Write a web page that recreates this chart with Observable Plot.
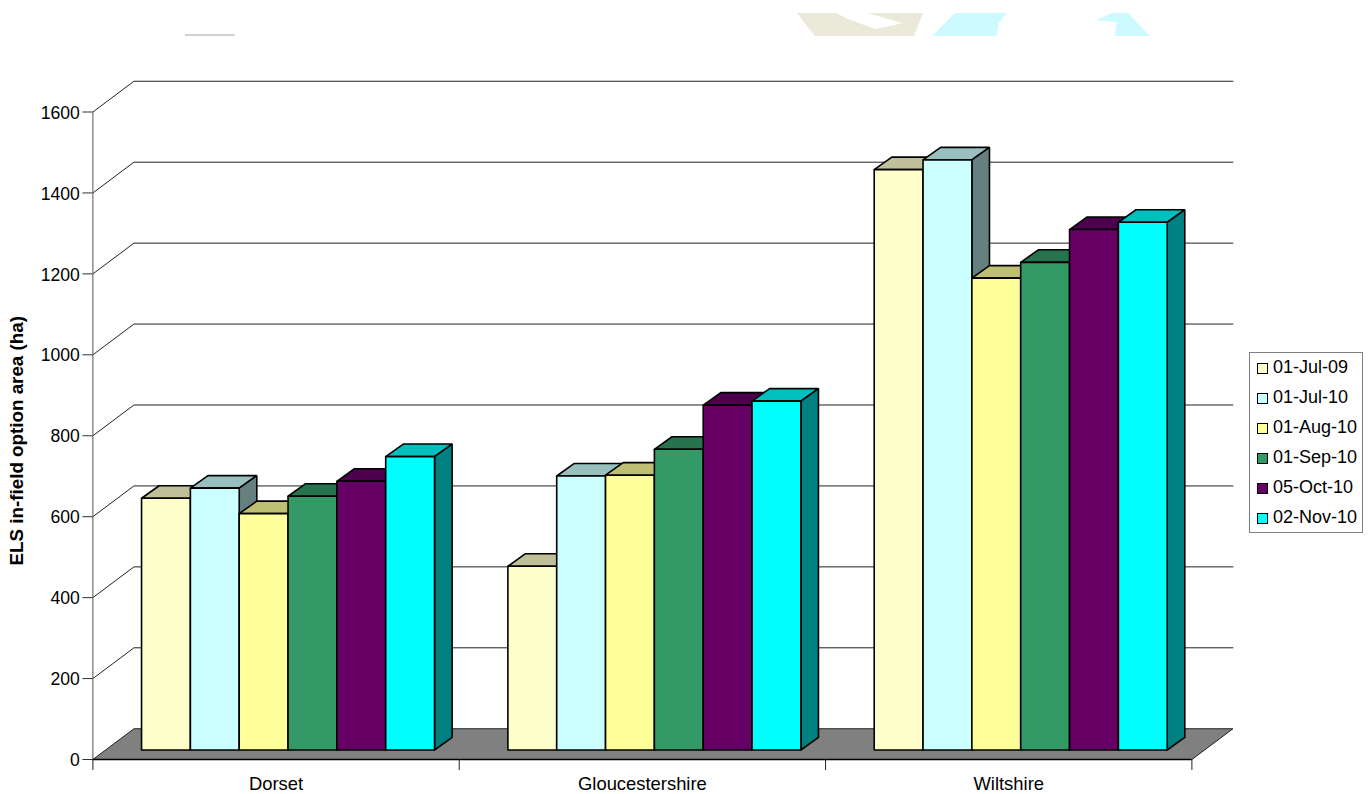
<!DOCTYPE html>
<html>
<head>
<meta charset="utf-8">
<script src="https://cdn.jsdelivr.net/npm/d3@7"></script>
<script src="https://cdn.jsdelivr.net/npm/@observablehq/plot@0.6"></script>
<style>
  html, body { margin: 0; padding: 0; background: #fff; }
  #page { position: relative; width: 1370px; height: 794px; overflow: hidden; font-family: "Liberation Sans", Arial, sans-serif; }
  #chart svg { display: block; }
  .legend { position: absolute; left: 1249px; top: 352px; width: 112px; height: 179px; border: 1px solid #808080; background: #fff; box-sizing: content-box; }
  .legend div { position: absolute; left: 7px; height: 30px; line-height: 30px; font-size: 18px; white-space: nowrap; color: #000; }
  .legend i { position: absolute; left: 0; top: 10px; width: 9px; height: 9px; border: 1px solid #000; }
  .legend span { position: absolute; left: 16px; top: -1px; }
  .remnant { position: absolute; top: 13px; height: 23px; }
</style>
</head>
<body>
<div id="page">
  <!-- pale fragments along the top edge of the sheet -->
  <div class="remnant" style="left:797px;width:126px;background:#ebe9d9;clip-path:polygon(0 0,31% 0,40% 25%,62% 70%,84% 45%,56% 0,100% 0,93% 100%,14% 100%)"></div>
  <div class="remnant" style="left:932px;width:76px;background:#ccfaff;clip-path:polygon(30% 0,98% 0,88% 45%,85% 100%,0 100%)"></div>
  <div class="remnant" style="left:1096px;width:54px;background:#ccfaff;clip-path:polygon(30% 0,60% 0,100% 100%,35% 100%,38% 40%,0 30%)"></div>
  <div class="remnant" style="left:185px;top:34px;width:50px;height:2px;background:#d2d2d2"></div>
  <div id="chart"></div>
</div>
<script>
// ELS in-field option area by county, at six survey dates
const categories = ["Dorset", "Gloucestershire", "Wiltshire"];
const dates = ["01-Jul-09", "01-Jul-10", "01-Aug-10", "01-Sep-10", "05-Oct-10", "02-Nov-10"];
const dorset = [622, 647, 584, 627, 664, 725];
const gloucestershire = [454, 677, 679, 743, 852, 862];
const wiltshire = [1434, 1458, 1166, 1205, 1286, 1304];
const frontColors = ["#FFFFCC", "#CCFFFF", "#FFFF99", "#339966", "#660066", "#00FFFF"];
const topColors = ["#BFBF99", "#99BFBF", "#BFBF73", "#26734D", "#4D004D", "#00BFBF"];
const sideColors = ["#808066", "#668080", "#80804D", "#1A4D33", "#330033", "#008080"];
const yTicks = [0, 200, 400, 600, 800, 1000, 1200, 1400, 1600];
const seriesByCategory = [dorset, gloucestershire, wiltshire];

// Oblique projection, in scale units: x in categories, y in hectares
const wallX = 0.112, wallY = 76;      // back wall offset from the front plane
const barInsetX = 0.1328, barRiseY = 23.5; // front of the bars within the floor
const barWidth = 0.1333;
const barDepthX = 0.048, barDepthY = 31;

// Closed outline helper: every face is one polygon drawn by Plot.line
const faces = [];
function addFace(points, fill) {
  const id = faces.length ? faces[faces.length - 1].id + 1 : 0;
  for (const [x, y] of [...points, points[0]]) faces.push({id, x, y, fill});
}

categories.forEach((_, c) => {
  seriesByCategory[c].forEach((value, s) => {
    const x0 = c + barInsetX + s * barWidth, x1 = x0 + barWidth;
    const y0 = barRiseY, y1 = barRiseY + value;
    addFace([[x0, y1], [x1, y1], [x1 + barDepthX, y1 + barDepthY], [x0 + barDepthX, y1 + barDepthY]], topColors[s]);
    addFace([[x1, y0], [x1 + barDepthX, y0 + barDepthY], [x1 + barDepthX, y1 + barDepthY], [x1, y1]], sideColors[s]);
    addFace([[x0, y0], [x1, y0], [x1, y1], [x0, y1]], frontColors[s]);
  });
});

const wallLines = yTicks.slice(1).flatMap(v => [
  {v, x: 0, y: v},
  {v, x: wallX, y: v + wallY},
  {v, x: 3 + wallX, y: v + wallY}
]);
const floor = [[0, 0], [wallX, wallY], [3 + wallX, wallY], [3, 0], [0, 0]].map(([x, y]) => ({x, y}));

const plot = Plot.plot({
  width: 1370,
  height: 794,
  marginLeft: 92.4,
  marginRight: 178.6,
  marginTop: 111.5,
  marginBottom: 35,
  x: {domain: [0, 3]},
  y: {domain: [0, 1600]},
  style: {fontFamily: "'Liberation Sans', Arial, sans-serif", color: "#000", background: "transparent"},
  marks: [
    Plot.line(wallLines, {x: "x", y: "y", z: "v", stroke: "#222", strokeWidth: 1}),
    Plot.line(floor, {x: "x", y: "y", fill: "#808080", stroke: "#222", strokeWidth: 1}),
    Plot.ruleY([0], {stroke: "#000", strokeWidth: 1.5}),
    Plot.ruleX([0], {stroke: "#555", strokeWidth: 1}),
    Plot.axisY({ticks: yTicks, tickSize: 10, label: null, stroke: "#333", text: null}),
    Plot.axisY({ticks: yTicks, tickSize: 0, tickPadding: 13, dy: 1, label: null, fontSize: 17.6, tickFormat: d => String(d)}),
    Plot.axisX({ticks: [0, 1, 2, 3], tickSize: 11, tickFormat: () => "", label: null, stroke: "#222"}),
    Plot.axisX({ticks: [0.5, 1.5, 2.5], tickSize: 0, tickPadding: 17, label: null, fontSize: 18.4,
      tickFormat: d => categories[Math.floor(d)]}),
    Plot.line(faces, {
      x: "x", y: "y", z: "id",
      fill: {value: "fill", scale: null},
      stroke: "#000", strokeWidth: 1.6, strokeLinejoin: "miter"
    }),
    Plot.text(["ELS in-field option area (ha)"], {
      frameAnchor: "left", rotate: -90, dx: -75.5, dy: 5, textAnchor: "middle",
      fontSize: 18.8, fontWeight: "bold", fill: "#000"
    })
  ]
});
document.getElementById("chart").append(plot);

// Series key on the right of the plot
const legend = document.createElement("div");
legend.className = "legend";
dates.forEach((label, s) => {
  const row = document.createElement("div");
  row.style.top = (s * 30) + "px";
  const swatch = document.createElement("i");
  swatch.style.background = frontColors[s];
  const text = document.createElement("span");
  text.textContent = label;
  row.append(swatch, text);
  legend.append(row);
});
document.getElementById("page").append(legend);
</script>
</body>
</html>
